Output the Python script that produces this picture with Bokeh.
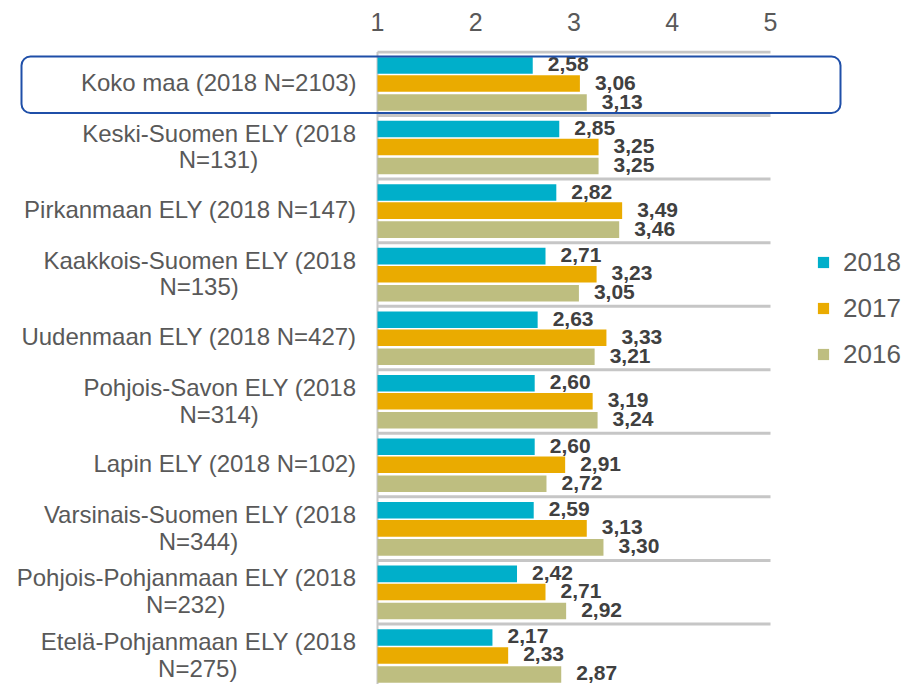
import numpy as np
from bokeh.plotting import figure
from bokeh.models import (Range1d, FixedTicker, Legend, LegendItem, BoxAnnotation,
                          ColumnDataSource)
from bokeh.core.properties import value
from bokeh.embed import file_html
from bokeh.resources import INLINE

# ---------------- data ----------------
categories = [
    "Koko maa (2018 N=2103)",
    "Keski-Suomen ELY (2018\nN=131)",
    "Pirkanmaan ELY (2018 N=147)",
    "Kaakkois-Suomen ELY (2018\nN=135)",
    "Uudenmaan ELY (2018 N=427)",
    "Pohjois-Savon ELY (2018\nN=314)",
    "Lapin ELY (2018 N=102)",
    "Varsinais-Suomen ELY (2018\nN=344)",
    "Pohjois-Pohjanmaan ELY (2018\nN=232)",
    "Etelä-Pohjanmaan ELY (2018\nN=275)",
]
series_names = ["2018", "2017", "2016"]
v2018 = [2.58, 2.85, 2.82, 2.71, 2.63, 2.60, 2.60, 2.59, 2.42, 2.17]
v2017 = [3.06, 3.25, 3.49, 3.23, 3.33, 3.19, 2.91, 3.13, 2.71, 2.33]
v2016 = [3.13, 3.25, 3.46, 3.05, 3.21, 3.24, 2.72, 3.30, 2.92, 2.87]
x_ticks = [1, 2, 3, 4, 5]

# ---------------- style ----------------
colors = ["#00AFCA", "#EAAB00", "#BEBE80"]
FONT = "Liberation Sans"
TXT = "#595959"
LBL_SIZE = 24
offsets = [0.212, 0.496, 0.795]   # bar centre below category top
bar_h = 0.26
W_FIG, H_FIG, TOP = 912, 684, 50
PXX, X1 = 98.25, 377.0          # px per unit, pixel of x=1
PXY, Y0 = 63.55, 51.5           # px per category, pixel of first separator

p = figure(width=W_FIG, height=H_FIG,
           x_range=Range1d(1 - X1 / PXX, 1 + (W_FIG - X1) / PXX),
           y_range=Range1d(-(H_FIG - Y0) / PXY, (Y0 - TOP) / PXY),
           x_axis_location="above", y_axis_location=None,
           output_backend="svg", toolbar_location=None,
           min_border=0, min_border_top=TOP, outline_line_color=None,
           background_fill_color="white", border_fill_color="white")
p.xgrid.visible = False
p.ygrid.visible = False
ax = p.xaxis[0]
ax.ticker = FixedTicker(ticks=x_ticks)
ax.axis_line_color = None
ax.major_tick_line_color = None
ax.minor_tick_line_color = None
ax.major_tick_out = 0
ax.major_tick_in = 0
ax.major_label_standoff = 20
ax.major_label_text_font = FONT
ax.major_label_text_font_size = "25px"
ax.major_label_text_color = TXT

n = len(categories)
# separators and left axis line
seps = -np.arange(n + 1, dtype=float)
p.segment(x0=x_ticks[0], x1=x_ticks[-1], y0=seps, y1=seps,
          line_color="#C6C6C6", line_width=3)
p.segment(x0=[x_ticks[0]], x1=[x_ticks[0]], y0=[0], y1=[-n],
          line_color="#C6C6C6", line_width=2)

renderers = []
for k, (name, vals) in enumerate(zip(series_names, [v2018, v2017, v2016])):
    ys = -np.arange(n) - offsets[k]
    src = ColumnDataSource(dict(y=ys, v=vals,
                                lab=[f"{v:.2f}".replace(".", ",") for v in vals]))
    r = p.hbar(y="y", left=x_ticks[0], right="v", height=bar_h,
               fill_color=colors[k], line_color=None, source=src)
    renderers.append(r)
    p.text(x="v", y="y", text="lab", x_offset=15, y_offset=-1, text_align="left",
           text_baseline="middle", text_font=value(FONT), text_font_style="bold",
           text_font_size="21px", text_color="#404040", source=src)

# category labels
W = {' ': 278, '(': 333, ')': 333, '-': 333, '=': 584, 'A': 667, 'E': 667, 'K': 667,
     'L': 556, 'N': 722, 'P': 667, 'S': 667, 'U': 722, 'V': 667, 'Y': 667, 'a': 556,
     'e': 556, 'h': 556, 'i': 222, 'j': 222, 'k': 500, 'l': 222, 'm': 833, 'n': 556,
     'o': 556, 'p': 556, 'r': 333, 's': 500, 't': 278, 'u': 556, 'v': 500, 'ä': 556}
def tw(s):
    return sum(W.get(c, 556) for c in s) / 1000.0 * LBL_SIZE

RIGHT = -21  # px from x=1
single = dict(x=[], y=[], t=[])
l1 = dict(x=[], y=[], t=[])
l2 = dict(x=[], y=[], t=[], xo=[])
for i, c in enumerate(categories):
    yc = -(i + 0.5)
    if "\n" in c:
        a, b = c.split("\n")
        l1["x"].append(1); l1["y"].append(yc); l1["t"].append(a)
        l2["x"].append(1); l2["y"].append(yc); l2["t"].append(b)
        l2["xo"].append(RIGHT - tw(a) / 2)
    else:
        single["x"].append(1); single["y"].append(yc); single["t"].append(c)

common = dict(text_font=value(FONT), text_font_size=f"{LBL_SIZE}px",
              text_color=TXT, text_baseline="middle")
p.text(x="x", y="y", text="t", source=ColumnDataSource(single), x_offset=RIGHT,
       y_offset=-1.5, text_align="right", **common)
p.text(x="x", y="y", text="t", source=ColumnDataSource(l1), x_offset=RIGHT,
       y_offset=-14.3, text_align="right", **common)
p.text(x="x", y="y", text="t", source=ColumnDataSource(l2), x_offset="xo",
       y_offset=12.5, text_align="center", **common)

# highlight box around first category
box = BoxAnnotation(left=1 + (21 - X1) / PXX, right=1 + (840 - X1) / PXX,
                    top=-(56 - Y0) / PXY, bottom=-(112.5 - Y0) / PXY,
                    fill_color=None, fill_alpha=0, line_color="#1F4FA8",
                    line_alpha=1.0, line_width=2, border_radius=9)
p.add_layout(box)

legend = Legend(items=[LegendItem(label=s, renderers=[r])
                       for s, r in zip(series_names, renderers)],
                location=(816, H_FIG - 369.5), orientation="vertical",
                glyph_width=14, glyph_height=14, label_height=30, spacing=15,
                label_standoff=13, padding=0, margin=0,
                label_text_font=FONT, label_text_font_size="26px",
                label_text_color=TXT, border_line_color=None,
                background_fill_alpha=0)
p.add_layout(legend)

open("out.html", "w").write(file_html(p, INLINE))
